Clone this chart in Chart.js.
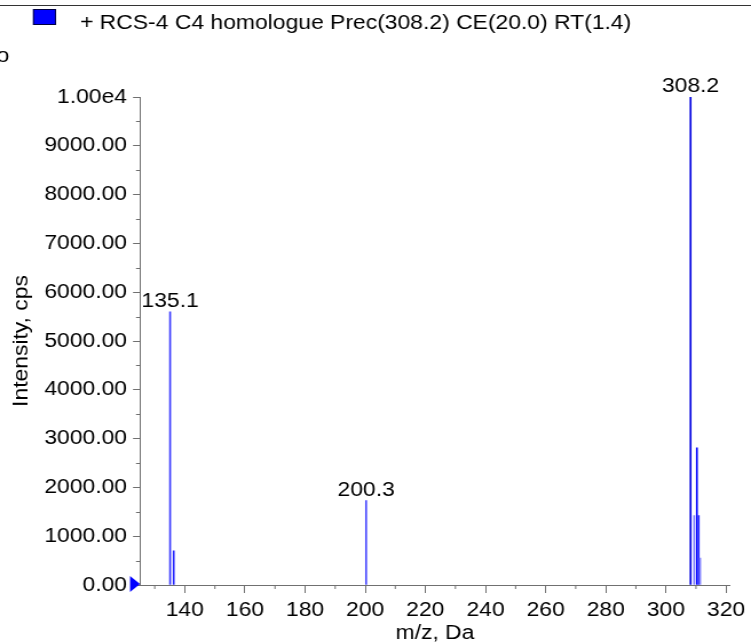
<!DOCTYPE html>
<html>
<head>
<meta charset="utf-8">
<title>RCS-4 C4 homologue</title>
<script src="https://cdn.jsdelivr.net/npm/chart.js"></script>
<style>
  body { margin: 0; padding: 0; background: #fff; }
  #wrap { width: 751px; height: 643px; position: relative; overflow: hidden; }
  /* the reference text is wide, so draw narrower and stretch the canvas */
  #spectrum { display: block; width: 751px; height: 643px; }
</style>
</head>
<body>
<div id="wrap"><canvas id="spectrum" width="656" height="643" style="width:751px;height:643px"></canvas></div>
<script>
// spectrum data
const seriesLabel = '+ RCS-4 C4 homologue Prec(308.2) CE(20.0) RT(1.4)';
const yTitle = 'Intensity, cps';
const mzValues = [135.1, 136.3, 200.3, 308.2, 309.4, 310.3, 310.9, 311.4];
const intensities = [5600, 700, 1730, 10000, 1420, 2810, 1420, 550];
const peakColors = ['#3b3bff', '#2525ff', '#4a4aff', '#0000e0', '#8080ff', '#0000ff', '#2a2aff', '#8585ff'];
const labelledPeaks = ['135.1', '200.3', '308.2'];
const xTicks = [140, 160, 180, 200, 220, 240, 260, 280, 300, 320];
const yTicks = [0, 1000, 2000, 3000, 4000, 5000, 6000, 7000, 8000, 9000, 10000];

const FONT = 'Arial, "Liberation Sans", sans-serif';
const SX = 751 / 656; // horizontal stretch of the canvas
Chart.defaults.font.family = FONT;
Chart.defaults.color = '#000';

// minor ticks, peak labels, legend, y title and the little blue marker
const decorations = {
  id: 'decorations',
  afterDraw(chart) {
    const ctx = chart.ctx;
    const xs = chart.scales.x, ys = chart.scales.y;
    const area = chart.chartArea;
    ctx.save();

    // top frame line
    ctx.strokeStyle = '#333';
    ctx.lineWidth = 1;
    ctx.beginPath();
    ctx.moveTo(0, 5.5);
    ctx.lineTo(chart.width, 5.5);
    ctx.stroke();

    // minor ticks
    ctx.strokeStyle = '#707070';
    ctx.beginPath();
    for (let v = 130; v <= 320; v += 20) {
      const px = xs.getPixelForValue(v);
      ctx.moveTo(px, area.bottom);
      ctx.lineTo(px, area.bottom + 4);
    }
    for (let v = 500; v < 10000; v += 1000) {
      const py = Math.round(ys.getPixelForValue(v)) + 0.5;
      ctx.moveTo(area.left, py);
      ctx.lineTo(area.left - 4 / SX, py);
    }
    ctx.stroke();

    // peak labels
    ctx.fillStyle = '#000';
    ctx.font = '20px ' + FONT;
    ctx.textAlign = 'center';
    ctx.textBaseline = 'alphabetic';
    labelledPeaks.forEach(lbl => {
      const i = mzValues.indexOf(parseFloat(lbl));
      const px = xs.getPixelForValue(mzValues[i]);
      const py = ys.getPixelForValue(intensities[i]);
      ctx.fillText(lbl, px, py - 5);
    });

    // legend
    ctx.fillStyle = '#0000ff';
    ctx.fillRect(33 / SX, 9, 23 / SX, 16);
    ctx.strokeStyle = '#000040';
    ctx.strokeRect(33 / SX + 0.5, 9.5, 23 / SX - 1, 15);
    ctx.fillStyle = '#000';
    ctx.textAlign = 'left';
    ctx.fillText(chart.data.datasets[0].label, 80 / SX, 29);

    // clipped glyph at the left edge
    ctx.fillText('o', -3, 62);

    // y axis title, wide along its baseline like the other texts
    ctx.save();
    ctx.translate(21.5 / SX, (area.top + area.bottom) / 2);
    ctx.rotate(-Math.PI / 2);
    ctx.scale(SX, 1 / SX);
    ctx.textAlign = 'center';
    ctx.textBaseline = 'middle';
    ctx.fillText(yTitle, 0, 0);
    ctx.restore();

    // zero marker
    const y0 = ys.getPixelForValue(0);
    ctx.fillStyle = '#0000ff';
    ctx.beginPath();
    ctx.moveTo(area.left - 10 / SX, y0 - 9);
    ctx.lineTo(area.left - 10 / SX, y0 + 7);
    ctx.lineTo(area.left, y0 - 1);
    ctx.closePath();
    ctx.fill();
    ctx.restore();
  }
};

new Chart(document.getElementById('spectrum'), {
  type: 'bar',
  data: {
    datasets: [{
      label: seriesLabel,
      data: mzValues.map((m, i) => ({ x: m, y: intensities[i] })),
      backgroundColor: peakColors,
      borderWidth: 0,
      barThickness: 1
    }]
  },
  options: {
    responsive: false,
    animation: false,
    devicePixelRatio: 1,
    layout: { padding: { top: 97, right: 656 - 733 / SX, left: 0, bottom: 0 } },
    plugins: { legend: { display: false }, tooltip: { enabled: false } },
    scales: {
      x: {
        type: 'linear',
        min: 125.1,
        max: 321.3,
        offset: false,
        afterFit: s => { s.height = 58; },
        afterBuildTicks: s => { s.ticks = xTicks.map(v => ({ value: v })); },
        grid: { drawOnChartArea: false, offset: false, tickLength: 8, tickColor: '#707070' },
        border: { color: '#707070' },
        ticks: { font: { size: 20 }, padding: 5, maxRotation: 0, autoSkip: false },
        title: { display: true, text: 'm/z, Da', font: { size: 20, lineHeight: 1 }, padding: 0 }
      },
      y: {
        min: 0,
        max: 10000,
        afterFit: s => { s.width = 140 / SX; },
        afterBuildTicks: s => { s.ticks = yTicks.map(v => ({ value: v })); },
        grid: { drawOnChartArea: false, tickLength: 7 / SX, tickColor: '#707070' },
        border: { color: '#707070' },
        ticks: {
          font: { size: 20 },
          padding: 6 / SX,
          autoSkip: false,
          callback: v => v === 10000 ? '1.00e4' : v.toFixed(2)
        },
        title: { display: false }
      }
    }
  },
  plugins: [decorations]
});
</script>
</body>
</html>
